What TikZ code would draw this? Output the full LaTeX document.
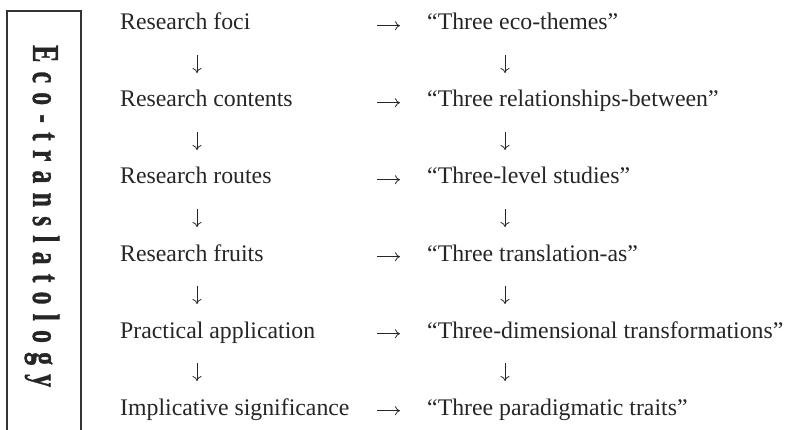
\documentclass[tikz,border=0pt]{standalone}
\usepackage{graphicx}
\usepackage{fontspec}
\setmainfont{Liberation Serif}
\newfontfamily\spacedfont[LetterSpace=35.5,BoldFeatures={FakeBold=1.2}]{Liberation Serif}
\usetikzlibrary{arrows.meta}
\begin{document}
\begin{tikzpicture}[x=1pt,y=1pt,
  item/.style={anchor=base west,inner sep=0pt,text=black!85,font=\fontsize{23.8}{28}\selectfont},
  link/.style={-{To[length=5pt,width=9pt]},line width=0.8pt,black!85}]
\useasboundingbox (0,0) rectangle (786,-430);
%%% frame with the vertical title
\draw[line width=1.2pt,black!80] (7,-440) -- (7,-11) -- (81,-11) -- (81,-440);
\node[rotate=-90,anchor=base west,inner sep=0pt,text=black!85] (title) at (33,-45)
  {\scalebox{0.68}[1]{\spacedfont\bfseries\fontsize{38}{38}\selectfont Eco-translatology}};
%%% columns of the arrows
\coordinate (ha) at (377,0);
\coordinate (hb) at (400,0);
\coordinate (dl) at (197,0);
\coordinate (dr) at (505,0);
%%% left column
\node[item] (foci) at (120,-30) {Research foci};
\node[item] (contents) at (120,-107) {Research contents};
\node[item] (routes) at (120,-184) {Research routes};
\node[item] (fruits) at (120,-261) {Research fruits};
\node[item] (practice) at (120,-338) {Practical application};
\node[item] (signif) at (120,-415) {Implicative significance};
%%% right column
\node[item] (themes) at (427,-30) {“Three eco-themes”};
\node[item] (relations) at (427,-107) {“Three relationships-between”};
\node[item] (levels) at (427,-184) {“Three-level studies”};
\node[item] (translas) at (427,-261) {“Three translation-as”};
\node[item] (dimens) at (427,-338) {“Three-dimensional transformations”};
\node[item] (traits) at (427,-415) {“Three paradigmatic traits”};
%%% arrows across
\begin{scope}[transform canvas={yshift=2pt}]
\draw[link] (foci.mid -| ha) -- (themes.mid -| hb);
\draw[link] (contents.mid -| ha) -- (relations.mid -| hb);
\draw[link] (routes.mid -| ha) -- (levels.mid -| hb);
\draw[link] (fruits.mid -| ha) -- (translas.mid -| hb);
\draw[link] (practice.mid -| ha) -- (dimens.mid -| hb);
\draw[link] (signif.mid -| ha) -- (traits.mid -| hb);
\end{scope}
%%% arrows down
\draw[link,shorten <=25pt,shorten >=34pt] (foci.base -| dl) -- (contents.base -| dl);
\draw[link,shorten <=25pt,shorten >=34pt] (contents.base -| dl) -- (routes.base -| dl);
\draw[link,shorten <=25pt,shorten >=34pt] (routes.base -| dl) -- (fruits.base -| dl);
\draw[link,shorten <=25pt,shorten >=34pt] (fruits.base -| dl) -- (practice.base -| dl);
\draw[link,shorten <=25pt,shorten >=34pt] (practice.base -| dl) -- (signif.base -| dl);
\draw[link,shorten <=25pt,shorten >=34pt] (themes.base -| dr) -- (relations.base -| dr);
\draw[link,shorten <=25pt,shorten >=34pt] (relations.base -| dr) -- (levels.base -| dr);
\draw[link,shorten <=25pt,shorten >=34pt] (levels.base -| dr) -- (translas.base -| dr);
\draw[link,shorten <=25pt,shorten >=34pt] (translas.base -| dr) -- (dimens.base -| dr);
\draw[link,shorten <=25pt,shorten >=34pt] (dimens.base -| dr) -- (traits.base -| dr);
\end{tikzpicture}
\end{document}
